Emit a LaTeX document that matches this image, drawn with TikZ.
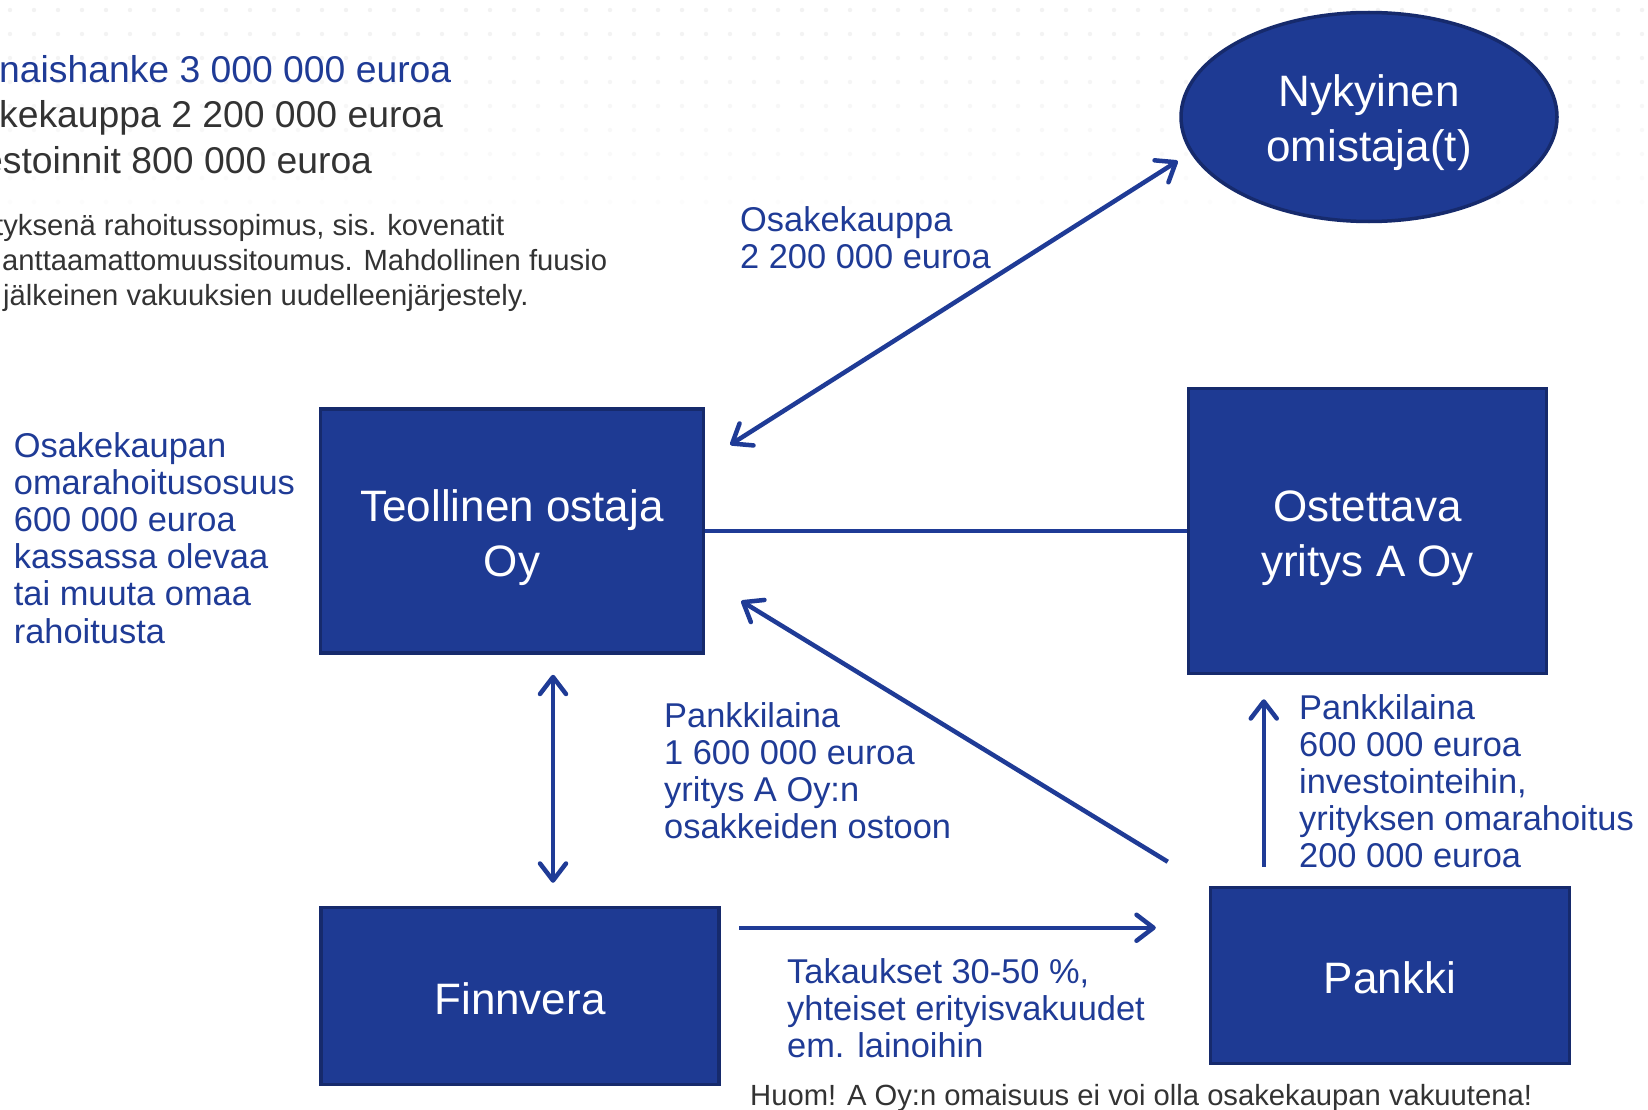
\documentclass[tikz,border=0pt]{standalone}
\usepackage{fontspec}
\setmainfont{Liberation Sans}
\usetikzlibrary{shapes.geometric,arrows.meta}
\definecolor{boxblue}{RGB}{30,58,147}
\definecolor{boxedge}{RGB}{22,42,108}
\definecolor{txtblue}{RGB}{31,59,150}
\definecolor{txtgray}{RGB}{51,51,51}

\begin{document}
\begin{tikzpicture}[x=1pt,y=-1pt]
    \tikzstyle{party}=[draw=boxedge, line width=3.5pt, fill=boxblue, text=white, align=center, inner sep=0pt, font=\fontsize{44}{55}\selectfont]
    \tikzstyle{note}=[text=txtblue, align=left, anchor=north west, inner sep=0pt, font=\fontsize{34.4}{37.2}\selectfont]
    \tikzstyle{flow}=[draw=txtblue, line width=4.5pt]
    \tikzset{>={Straight Barb[length=17pt,width=26pt,round]}}
    \useasboundingbox (0,0) rectangle (1648,1110);
    \fill[white] (0,0) rectangle (1648,1110);
    % faint dotted background at the top
    \foreach \i in {0,...,68}
        \foreach \j in {0,...,8}
            \fill[gray!10, opacity=1-\j/10] (\i*24+10, \j*24+10) circle (2.2pt);

    % parties
    \node[party, minimum width=383pt, minimum height=244pt] (teollinen) at (512,531) {\rule{0pt}{45pt}Teollinen ostaja\\Oy};
    \node[party, minimum width=358pt, minimum height=285pt] (ostettava) at (1367.5,531) {\rule{0pt}{45pt}Ostettava\\yritys A Oy};
    \node[party, ellipse, minimum width=376pt, minimum height=209pt] (nykyinen) at (1369,117) {\rule{0pt}{43pt}Nykyinen\\omistaja(t)};
    \node[party, minimum width=398pt, minimum height=177pt] (finnvera) at (520,996) {\rule{0pt}{38pt}Finnvera};
    \node[party, minimum width=359pt, minimum height=176pt] (pankki) at (1390,975.5) {\rule{0pt}{36pt}Pankki};

    % connectors
    \draw[flow, <->] ([xshift=25pt,yshift=-37.5pt]teollinen.north east) -- ([xshift=-1.5pt,yshift=-44pt]nykyinen.west);
    \draw[flow] (teollinen.east) -- (ostettava.west);
    \draw[flow, ->] ([xshift=-41pt,yshift=24pt]pankki.north west) -- ([xshift=36pt,yshift=-70pt]teollinen.east);
    \draw[flow, <->] ([xshift=41pt,yshift=-20pt]teollinen.south) -- ([xshift=33pt,yshift=23pt]finnvera.north);
    \draw[flow, ->] ([xshift=18.5pt,yshift=-22pt]finnvera.north east) -- ([xshift=-53pt,yshift=-42pt]pankki.north west);
    \draw[flow, ->] ([xshift=55pt,yshift=19pt]pankki.north west) -- ([xshift=77pt,yshift=-24pt]ostettava.south west);

    % texts
    \node[note, font=\fontsize{37.3}{45.5}\selectfont] (summary) at (-1,55)
        {\textcolor{txtblue}{naishanke 3 000 000 euroa}\\
         \textcolor{txtgray}{kekauppa 2 200 000 euroa}\\
         \hspace*{-17pt}\textcolor{txtgray}{estoinnit 800 000 euroa}};
    \node[note, text=txtgray, font=\fontsize{29.2}{35}\selectfont] (terms) at (-5,214)
        {tyksenä rahoitussopimus, sis. kovenatit\\
         \hspace*{7pt}anttaamattomuussitoumus. Mahdollinen fuusio\\
         \hspace*{8pt}jälkeinen vakuuksien uudelleenjärjestely.};
    \node[note] (kauppa) at (740,206) {Osakekauppa\\2 200 000 euroa};
    \node[note] (omaraha) at (13.7,432) {Osakekaupan\\omarahoitusosuus\\600 000 euroa\\kassassa olevaa\\tai muuta omaa\\rahoitusta};
    \node[note] (laina1) at (664,702) {Pankkilaina\\1 600 000 euroa\\yritys A Oy:n\\osakkeiden ostoon};
    \node[note] (laina2) at (1299,694) {Pankkilaina\\600 000 euroa\\investointeihin,\\yrityksen omarahoitus\\200 000 euroa};
    \node[note] (takaus) at (787,958) {Takaukset 30-50 \%,\\yhteiset erityisvakuudet\\em. lainoihin};
    \node[note, text=txtgray, font=\fontsize{29.2}{35}\selectfont] (huom) at (750,1084) {Huom! A Oy:n omaisuus ei voi olla osakekaupan vakuutena!};
\end{tikzpicture}
\end{document}
